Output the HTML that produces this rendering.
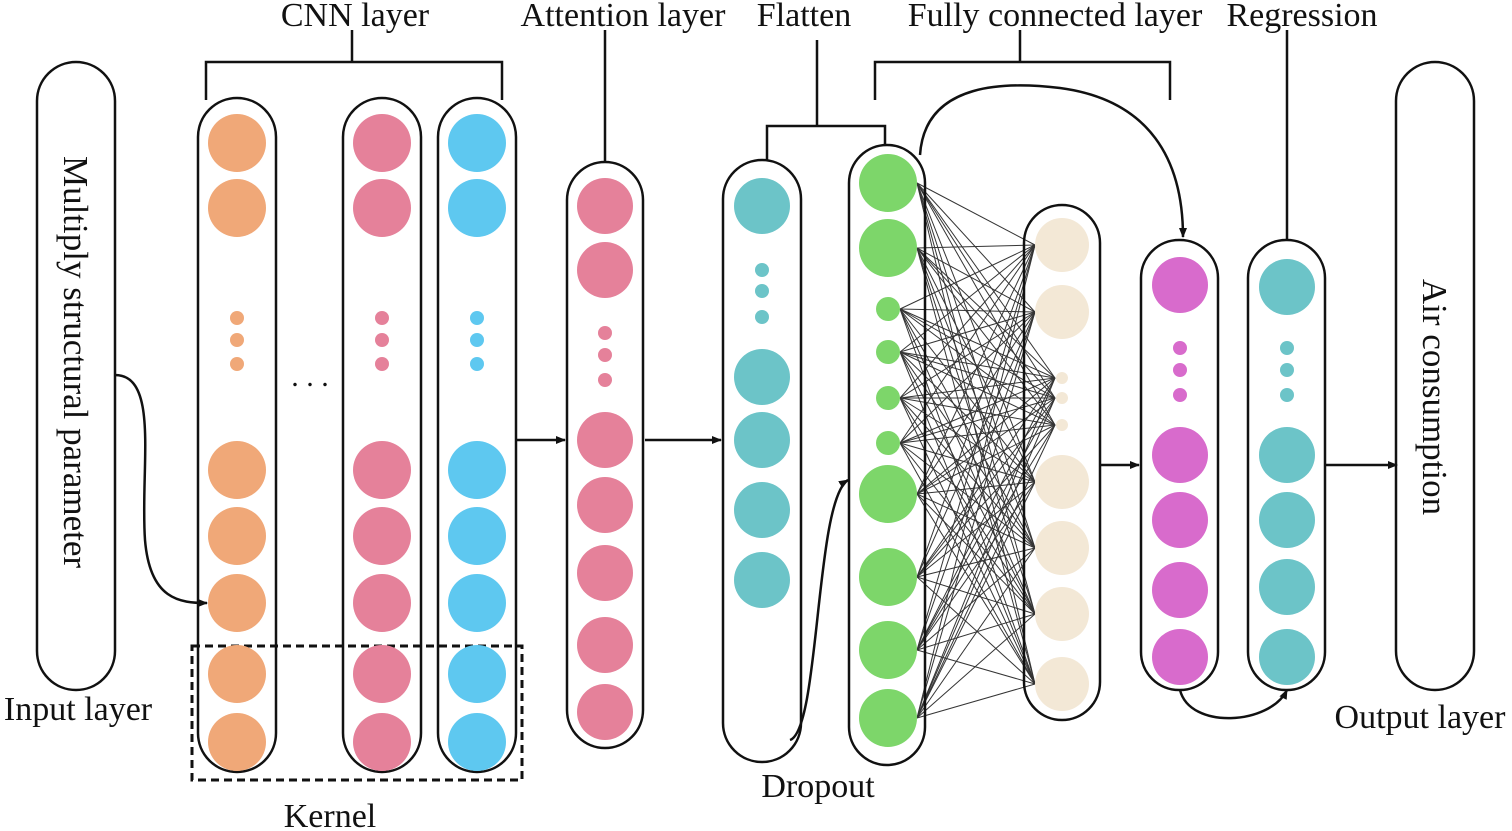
<!DOCTYPE html>
<html><head><meta charset="utf-8"><style>
html,body{margin:0;padding:0;background:#fff;}
svg{display:block;}
text{font-family:"Liberation Serif",serif;fill:#111;}
</style></head><body>
<svg id="s" width="1512" height="831" viewBox="0 0 1512 831" xmlns="http://www.w3.org/2000/svg">
<defs><marker id="a" markerWidth="10" markerHeight="10" refX="9" refY="5" orient="auto" markerUnits="userSpaceOnUse"><path d="M0,1 L10,5 L0,9 Z" fill="#111"/></marker></defs>
<g fill="none" stroke="#111" stroke-width="2.5">
<rect x="37" y="62" width="78" height="628" rx="39"/>
<rect x="198" y="98" width="78" height="674" rx="39"/>
<rect x="343" y="98" width="78" height="674" rx="39"/>
<rect x="438" y="98" width="78" height="674" rx="39"/>
<rect x="567" y="162" width="76" height="586" rx="38"/>
<rect x="723" y="160" width="78" height="602" rx="39"/>
<rect x="849" y="145" width="76" height="620" rx="38"/>
<rect x="1024" y="205" width="76" height="515" rx="38"/>
<rect x="1141" y="240" width="77" height="450" rx="38"/>
<rect x="1248" y="240" width="77" height="450" rx="38"/>
<rect x="1396" y="62" width="78" height="628" rx="39"/>
<path d="M206,100 V62 H502 V100 M352,62 V30"/>
<path d="M605,162 V30"/>
<path d="M767,160 V126 H885 V145 M817,126 V40"/>
<path d="M875,100 V62 H1170 V100 M1020,62 V30"/>
<path d="M1287,240 V30"/>
<rect x="192" y="646" width="330" height="134" stroke-dasharray="8,5" stroke-width="3"/>
<path d="M516,440 H565" marker-end="url(#a)"/>
<path d="M645,440 H721" marker-end="url(#a)"/>
<path d="M1100,465 H1139" marker-end="url(#a)"/>
<path d="M1325,465 H1397" marker-end="url(#a)"/>
<path d="M115,375 C160,375 140,470 145,540 C150,600 180,603 207,603" marker-end="url(#a)"/>
<path d="M790,740 C820,730 815,500 848,480" marker-end="url(#a)"/>
<path d="M920,155 C925,80 1010,82 1060,88 C1150,100 1183,160 1183,237" marker-end="url(#a)"/>
<path d="M1180,690 C1190,730 1270,725 1287,690" marker-end="url(#a)"/>
</g>
<g id="net" stroke="#111" stroke-width="1" opacity="0.85"></g>
<g id="c"></g>
<text x="355" y="26" font-size="34" text-anchor="middle">CNN layer</text>
<text x="623" y="26" font-size="34" text-anchor="middle">Attention layer</text>
<text x="804" y="26" font-size="34" text-anchor="middle">Flatten</text>
<text x="1055" y="26" font-size="34" text-anchor="middle">Fully connected layer</text>
<text x="1302" y="26" font-size="34" text-anchor="middle">Regression</text>
<text x="78" y="720" font-size="34" text-anchor="middle">Input layer</text>
<text x="330" y="827" font-size="34" text-anchor="middle">Kernel</text>
<text x="818" y="797" font-size="34" text-anchor="middle">Dropout</text>
<text x="1420" y="728" font-size="34" text-anchor="middle">Output layer</text>
<text x="0" y="0" font-size="35" text-anchor="middle" transform="translate(64,362) rotate(90)">Multiply structural parameter</text>
<text x="0" y="0" font-size="35" text-anchor="middle" transform="translate(1423,397) rotate(90)">Air consumption</text>
<text x="310" y="386" font-size="30" text-anchor="middle">. . .</text>
</svg>
<script>
var NS="http://www.w3.org/2000/svg",c=document.getElementById("c"),net=document.getElementById("net");
function C(x,y,r,f){var e=document.createElementNS(NS,"circle");e.setAttribute("cx",x);e.setAttribute("cy",y);e.setAttribute("r",r);e.setAttribute("fill",f);c.appendChild(e);}
function col(x,big,dots,f,r){big.forEach(function(y){C(x,y,r||29,f)});dots.forEach(function(y){C(x,y,7,f)});}
var cy=[143,208,470,536,603,674,742],cd=[318,340,364];
col(237,cy,cd,"#f0a878");col(382,cy,cd,"#e5819a");col(477,cy,cd,"#5ec8f0");
col(605,[206,270,440,505,573,645,712],[333,355,380],"#e5819a",28);
col(762,[206,377,440,510,580],[270,291,317],"#6cc4c8",28);
var gb=[183,248,494,577,650,718],gs=[309,352,398,443];
col(888,gb,[],"#7dd66a",29);gs.forEach(function(y){C(888,y,12,"#7dd66a")});
var bb=[245,312,482,548,614,684],bs=[378,398,425];
col(1062,bb,[],"#f3e8d6",27);bs.forEach(function(y){C(1062,y,6,"#f3e8d6")});
col(1180,[285,455,520,590,657],[348,370,395],"#d86bcc",28);
col(1287,[287,455,520,587,657],[348,370,395],"#6cc4c8",28);
var L=gb.map(function(y){return[917,y]}).concat(gs.map(function(y){return[900,y]}));
var R=bb.map(function(y){return[1035,y]}).concat(bs.map(function(y){return[1055,y]}));
L.forEach(function(a){R.forEach(function(b){var l=document.createElementNS(NS,"line");l.setAttribute("x1",a[0]);l.setAttribute("y1",a[1]);l.setAttribute("x2",b[0]);l.setAttribute("y2",b[1]);net.appendChild(l);});});
</script>
</body></html>
